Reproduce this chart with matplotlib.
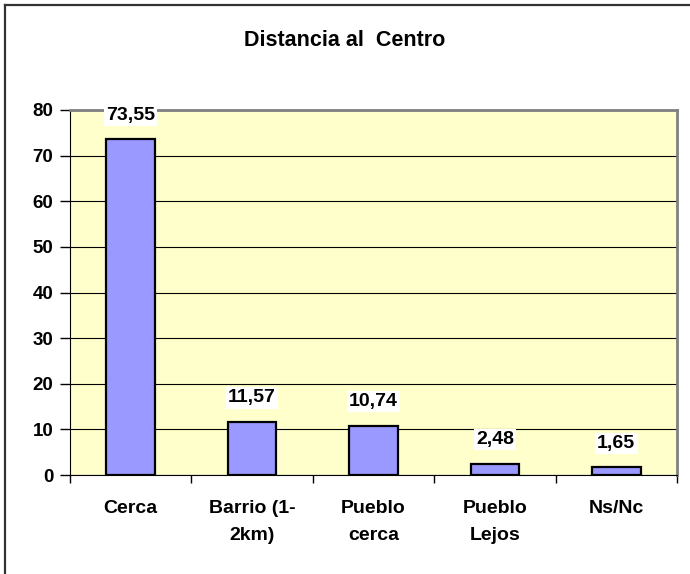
import matplotlib
matplotlib.use("Agg")
import matplotlib.pyplot as plt
from matplotlib.lines import Line2D

plt.rcParams['font.family'] = ['Liberation Sans', 'DejaVu Sans']
plt.rcParams['font.weight'] = 'bold'

# data
categories = ["Cerca", "Barrio (1-\n2km)", "Pueblo\ncerca", "Pueblo\nLejos", "Ns/Nc"]
values = [73.55, 11.57, 10.74, 2.48, 1.65]
value_labels = ["73,55", "11,57", "10,74", "2,48", "1,65"]
yticks = [0, 10, 20, 30, 40, 50, 60, 70, 80]

fig = plt.figure(figsize=(6.9, 5.74), dpi=100)
ax = fig.add_axes([70 / 690, 1 - 475 / 574, 607 / 690, 365 / 574])

# outer chart frame (only left and top edges are visible)
fig.add_artist(Line2D([5 / 690, 5 / 690], [0, 1 - 5 / 574], color="#333333", lw=1.6, transform=fig.transFigure))
fig.add_artist(Line2D([5 / 690, 1], [1 - 5 / 574, 1 - 5 / 574], color="#333333", lw=1.6, transform=fig.transFigure))

ax.set_facecolor("#FFFFCC")
x = range(len(categories))
ax.bar(x, values, width=0.4, color="#9999FF", edgecolor="black", linewidth=1.6, zorder=3)

ax.set_xlim(-0.5, len(categories) - 0.5)
ax.set_ylim(0, 80)
ax.set_yticks(yticks)
ax.yaxis.grid(True, color="black", linewidth=0.8, zorder=1)
ax.set_axisbelow(True)

# x ticks sit between categories, labels centered under bars
ax.set_xticks([i - 0.5 for i in range(len(categories) + 1)])
ax.set_xticklabels([])
ax.set_xticks(list(x), minor=True)
ax.set_xticklabels(categories, minor=True, fontsize=14, fontweight="bold", linespacing=1.75)
ax.tick_params(axis="x", which="minor", length=0, pad=18)
ax.tick_params(axis="x", which="major", length=6, direction="out", width=1)
ax.tick_params(axis="y", length=7, direction="out", width=1, labelsize=13.5, pad=5)
for lab in ax.get_yticklabels():
    lab.set_fontweight("bold")

for side in ["top", "right"]:
    ax.spines[side].set_color("#808080")
    ax.spines[side].set_linewidth(2)
ax.spines["left"].set_color("black")
ax.spines["bottom"].set_color("black")

for i, (v, t) in enumerate(zip(values, value_labels)):
    ax.annotate(t, (i, v), xytext=(0, 17.5), textcoords="offset points",
                ha="center", va="center", fontsize=14, fontweight="bold",
                bbox=dict(facecolor="white", edgecolor="none", pad=1.5), zorder=4, annotation_clip=False)

fig.text(0.5, 1 - 46 / 574, "Distancia al  Centro", ha="center", va="baseline", fontsize=15.5, fontweight="bold")

fig.savefig("out.png", dpi=100)
